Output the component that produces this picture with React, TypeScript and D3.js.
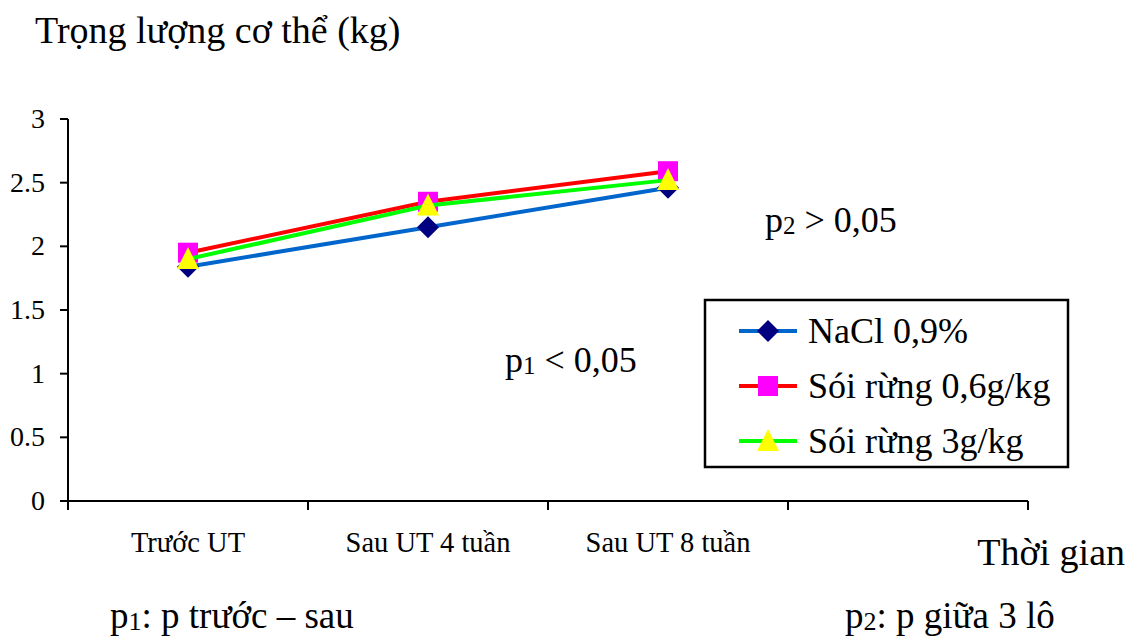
import React from "react";
import * as d3 from "d3";

const categories = ["Trước UT", "Sau UT 4 tuần", "Sau UT 8 tuần", ""];
const seriesNames = ["NaCl 0,9%", "Sói rừng 0,6g/kg", "Sói rừng 3g/kg"];
const naclValues = [1.84, 2.15, 2.46];
const soi06Values = [1.95, 2.35, 2.59];
const soi3Values = [1.9, 2.32, 2.52];
const yTicks = [0, 0.5, 1, 1.5, 2, 2.5, 3];

const W = 1134;
const H = 639;
const FONT = "'Liberation Serif', 'Times New Roman', serif";

const series = [
  { name: seriesNames[0], values: naclValues, line: "#0066CC", fill: "#000080", marker: "diamond" },
  { name: seriesNames[1], values: soi06Values, line: "#FF0000", fill: "#FF00FF", marker: "square" },
  { name: seriesNames[2], values: soi3Values, line: "#00FF00", fill: "#FFFF00", marker: "triangle" },
];

function Marker({ kind, x, y, fill }: { kind: string; x: number; y: number; fill: string }) {
  if (kind === "diamond") {
    const r = 11;
    return <path d={`M${x},${y - r}L${x + r},${y}L${x},${y + r}L${x - r},${y}Z`} fill={fill} />;
  }
  if (kind === "square") {
    const s = 10;
    return <rect x={x - s} y={y - s} width={2 * s} height={2 * s} fill={fill} />;
  }
  const w = 11;
  return <path d={`M${x},${y - 12}L${x + w},${y + 10}L${x - w},${y + 10}Z`} fill={fill} />;
}

export default function App() {
  const x = d3.scaleBand<string>().domain(categories).range([68, 1028]).padding(0);
  const y = d3.scaleLinear().domain([0, 3]).range([501, 119]);
  const xBoundaries = [...categories.map((c) => x(c) as number), 1028];
  const cx = (i: number) => (x(categories[i]) as number) + x.bandwidth() / 2;

  const line = d3
    .line<number>()
    .x((_, i) => cx(i))
    .y((d) => y(d));

  const legendRows = [331, 386, 441];

  return (
    <svg width={W} height={H} style={{ position: "absolute", left: 0, top: 0, background: "#fff" }} fontFamily={FONT}>
      <rect x={0} y={0} width={W} height={H} fill="#fff" />
      {/* title */}
      <text x={35} y={43} fontSize={38} fill="#000">Trọng lượng cơ thể (kg)</text>

      {/* y axis */}
      <line x1={68} x2={68} y1={y(3)} y2={y(0) + 8} stroke="#000" strokeWidth={2} />
      {yTicks.map((t) => (
        <g key={t}>
          <line x1={60} x2={68} y1={y(t)} y2={y(t)} stroke="#000" strokeWidth={2} />
          <text x={45} y={y(t) + 9} fontSize={28} textAnchor="end" fill="#000">{String(t)}</text>
        </g>
      ))}

      {/* x axis */}
      <line x1={68} x2={1028} y1={y(0)} y2={y(0)} stroke="#000" strokeWidth={2} />
      {xBoundaries.map((b, i) => (
        <line key={i} x1={b} x2={b} y1={y(0)} y2={y(0) + 9} stroke="#000" strokeWidth={2} />
      ))}
      {categories.map((c, i) =>
        c ? (
          <text key={c} x={cx(i)} y={552} fontSize={28.5} textAnchor="middle" fill="#000">{c}</text>
        ) : null
      )}
      <text x={1125} y={565} fontSize={38} textAnchor="end" fill="#000">Thời gian</text>

      {/* series */}
      {series.map((s) => (
        <g key={s.name}>
          <path d={line(s.values) || ""} fill="none" stroke={s.line} strokeWidth={4} />
          {s.values.map((v, i) => (
            <Marker key={i} kind={s.marker} x={cx(i)} y={y(v)} fill={s.fill} />
          ))}
        </g>
      ))}

      {/* annotations */}
      <text x={765} y={232} fontSize={36} fill="#000">
        p<tspan fontSize={25} dy={2}>2</tspan><tspan dy={-2}> &gt; 0,05</tspan>
      </text>
      <text x={505} y={372} fontSize={36} fill="#000">
        p<tspan fontSize={25} dy={2}>1</tspan><tspan dy={-2}> &lt; 0,05</tspan>
      </text>

      {/* legend */}
      <rect x={705} y={300} width={363} height={167} fill="#fff" stroke="#000" strokeWidth={2.5} />
      {series.map((s, i) => (
        <g key={s.name}>
          <line x1={739} x2={797} y1={legendRows[i]} y2={legendRows[i]} stroke={s.line} strokeWidth={4} />
          <Marker kind={s.marker} x={768} y={legendRows[i]} fill={s.fill} />
          <text x={808} y={legendRows[i] + 12} fontSize={36} fill="#000">{s.name}</text>
        </g>
      ))}

      {/* footnotes */}
      <text x={110} y={628} fontSize={37} fill="#000">
        p<tspan fontSize={26} dy={2}>1</tspan><tspan dy={-2}>: p trước – sau</tspan>
      </text>
      <text x={845} y={628} fontSize={37} fill="#000">
        p<tspan fontSize={26} dy={2}>2</tspan><tspan dy={-2}>: p giữa 3 lô</tspan>
      </text>
    </svg>
  );
}
